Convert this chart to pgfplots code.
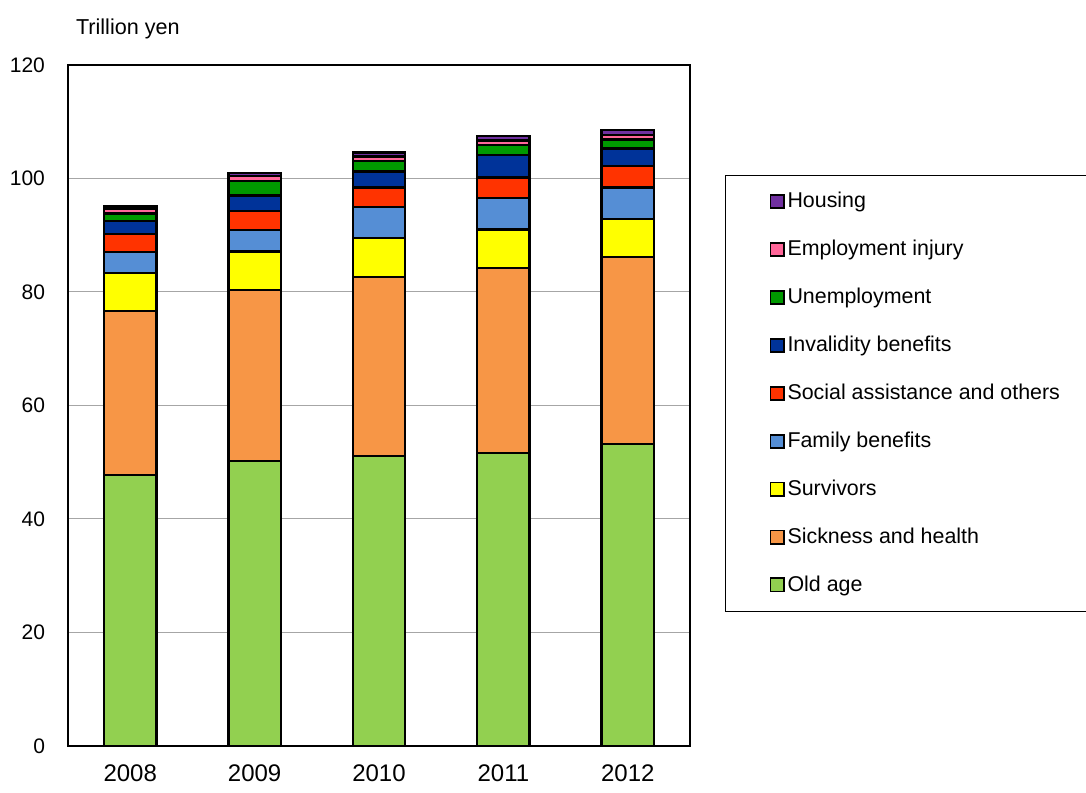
\documentclass[border=0pt]{standalone}
\usepackage{pgfplots}
\pgfplotsset{compat=1.18}
\usepackage{fontspec}
\setmainfont{Liberation Sans}
\definecolor{cOld}{RGB}{146,208,80}
\definecolor{cSick}{RGB}{247,150,70}
\definecolor{cSurv}{RGB}{255,255,0}
\definecolor{cFam}{RGB}{85,142,213}
\definecolor{cSoc}{RGB}{255,51,0}
\definecolor{cInv}{RGB}{0,51,153}
\definecolor{cUnemp}{RGB}{0,153,0}
\definecolor{cEmp}{RGB}{255,102,153}
\definecolor{cHous}{RGB}{112,48,160}
\begin{document}
\begin{tikzpicture}
\path[use as bounding box] (-34pt,-23pt) rectangle (509pt,373pt);
\begin{axis}[
  at={(0,0)}, anchor=south west,
  scale only axis, width=311pt, height=340.5pt,
  ybar stacked, bar width=0.42,
  xmin=-0.5, xmax=4.5, ymin=0, ymax=120,
  xtick={0,1,2,3,4}, xticklabels={2008,2009,2010,2011,2012},
  major x tick style={draw=none},
  extra x ticks={0.5,1.5,2.5,3.5}, extra x tick labels={},
  extra x tick style={major tick length=3.5pt, tick style={black, line width=0.5pt}, tick align=inside, grid=none},
  ytick={0,20,...,120}, major y tick style={draw=none},
  ymajorgrids, grid style={gray!70, line width=0.5pt},
  axis line style={black, line width=0.6pt},
  tick label style={font=\fontsize{12}{14}\selectfont},
  yticklabel style={font=\fontsize{10.5}{12}\selectfont},
  /pgf/number format/assume math mode=true,
  xticklabel style={yshift=-6pt},
  yticklabel style={xshift=-8pt},
  every axis plot/.append style={draw=black, line width=1.2pt},
  legend style={at={(1.0563,0.8385)}, anchor=north west, draw=black, line width=0.5pt,
    font=\fontsize{10.7}{12}\selectfont, inner xsep=22pt, inner ysep=7pt, row sep=11.7pt,
    nodes={inner sep=1.5pt}},
  legend cell align=left,
  reverse legend,
  legend image code/.code={\draw[#1, line width=0.9pt] (0pt,-3.3pt) rectangle (6.6pt,3.3pt);},
  clip=false,
]
\addplot[fill=cOld] coordinates {(0,47.8) (1,50.2) (2,51.1) (3,51.6) (4,53.2)};
\addplot[fill=cSick] coordinates {(0,28.9) (1,30.2) (2,31.5) (3,32.6) (4,33.0)};
\addplot[fill=cSurv] coordinates {(0,6.6) (1,6.7) (2,6.9) (3,6.8) (4,6.7)};
\addplot[fill=cFam] coordinates {(0,3.7) (1,3.8) (2,5.5) (3,5.6) (4,5.5)};
\addplot[fill=cSoc] coordinates {(0,3.2) (1,3.4) (2,3.4) (3,3.6) (4,3.8)};
\addplot[fill=cInv] coordinates {(0,2.3) (1,2.7) (2,2.8) (3,3.9) (4,3.1)};
\addplot[fill=cUnemp] coordinates {(0,1.3) (1,2.6) (2,1.9) (3,1.8) (4,1.6)};
\addplot[fill=cEmp] coordinates {(0,0.9) (1,0.8) (2,0.8) (3,0.8) (4,0.8)};
\addplot[fill=cHous] coordinates {(0,0.5) (1,0.6) (2,0.7) (3,0.8) (4,0.8)};
\legend{Old age,Sickness and health,Survivors,Family benefits,Social assistance and others,Invalidity benefits,Unemployment,Employment injury,Housing}
\node[anchor=base west, font=\fontsize{10.8}{12}\selectfont] at (axis description cs:0,1.0) [xshift=0.5pt, yshift=15pt] {Trillion yen};
\end{axis}
\end{tikzpicture}
\end{document}
